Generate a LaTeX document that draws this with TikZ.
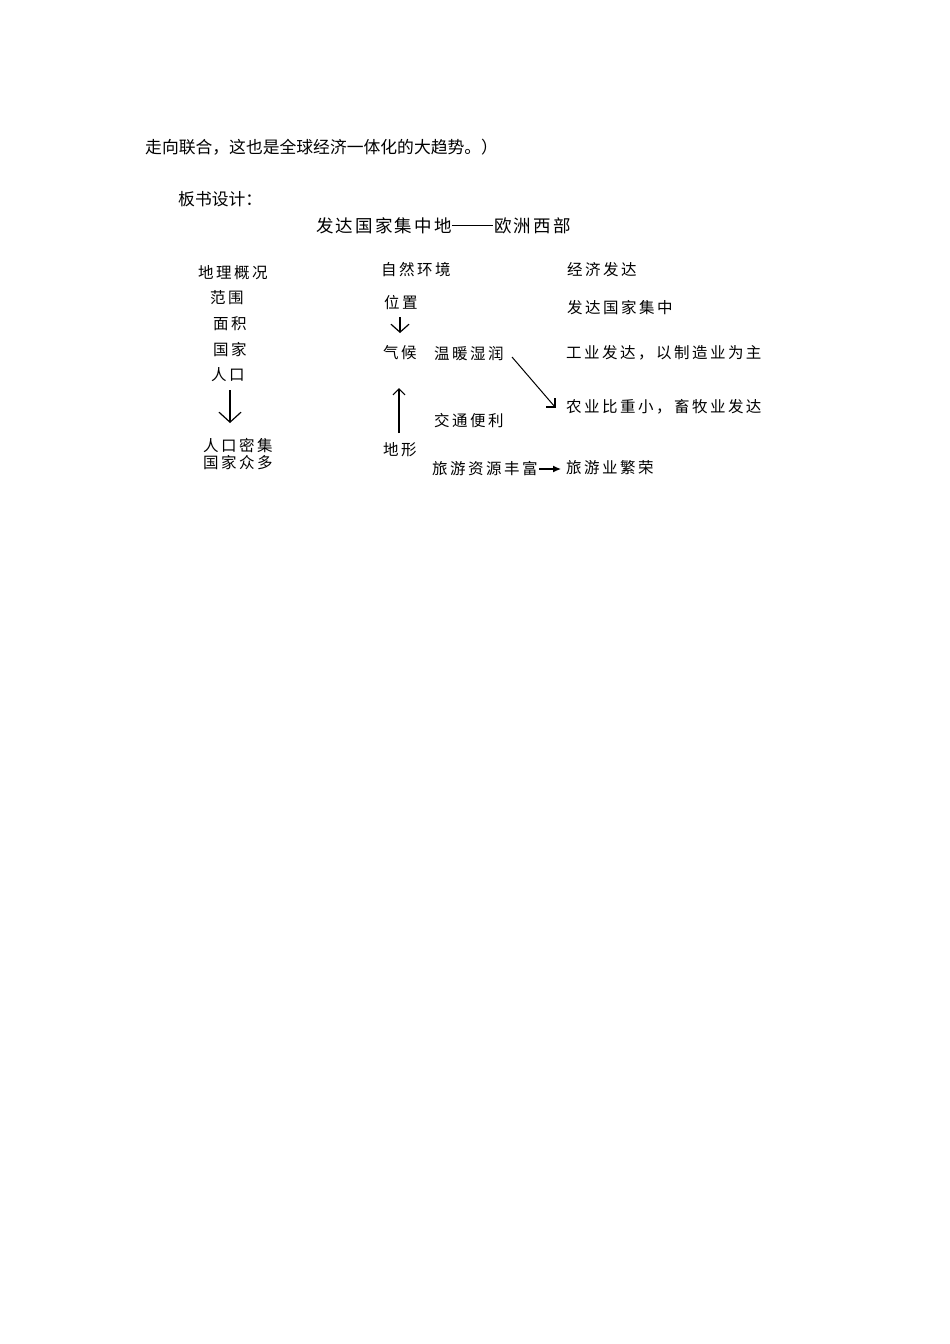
\documentclass[tikz,border=0pt]{standalone}
\usepackage{fontspec}
\usetikzlibrary{arrows.meta}
\newfontfamily\cjkplain{Noto Sans CJK SC}
\newfontfamily\cjkls[LetterSpace=16]{Noto Sans CJK SC}
\newfontfamily\cjktitle[LetterSpace=12.5]{Noto Sans CJK SC}
\begin{document}
\begin{tikzpicture}[x=1pt,y=-1pt,
  lbl/.style={anchor=west,inner sep=0pt,font=\fontsize{15.5}{18}\selectfont\cjkls},
  body/.style={anchor=west,inner sep=0pt,font=\fontsize{16.8}{20}\selectfont\cjkplain},
  ttl/.style={anchor=west,inner sep=0pt,font=\fontsize{17.5}{20}\selectfont\cjktitle},
  arr/.style={line width=1.2pt}]
\useasboundingbox (0,0) rectangle (950,1344);
\fill[white] (0,0) rectangle (950,1344);
% header text
\node[body] (l1) at (145,147) {走向联合，这也是全球经济一体化的大趋势。）};
\node[body] (bs) at (178,199) {板书设计：};
\node[ttl] (title) at (316,226) {发达国家集中地\rule[6.2pt]{41pt}{1.1pt}\hspace{1.5pt}欧洲西部};
% column 1
\node[lbl] (dl) at (198,273) {地理概况};
\node[lbl] (fw) at (210,298) {范围};
\node[lbl] (mj) at (213,324) {面积};
\node[lbl] (gj) at (213,350) {国家};
\node[lbl] (rk) at (211,375) {人口};
\node[lbl] (rkmj) at (203,446) {人口密集};
\node[lbl] (gjzd) at (203,463) {国家众多};
% column 2
\node[lbl] (zr) at (381,270) {自然环境};
\node[lbl] (wz) at (384,303) {位置};
\node[lbl] (qh) at (383,353) {气候};
\node[lbl] (wn) at (434,354) {温暖湿润};
\node[lbl] (jt) at (434,421) {交通便利};
\node[lbl] (dx) at (383,450) {地形};
\node[lbl] (ly) at (432,469) {旅游资源丰富};
% column 3
\node[lbl] (jj) at (567,270) {经济发达};
\node[lbl] (fd) at (567,308) {发达国家集中};
\node[lbl] (gy) at (566,353) {工业发达，以制造业为主};
\node[lbl] (ny) at (566,407) {农业比重小，畜牧业发达};
\node[lbl] (lyfr) at (566,468) {旅游业繁荣};
% arrow end points
\coordinate (a1s) at (230,390);
\coordinate (a1e) at (230,423);
\coordinate (a2s) at (400,317);
\coordinate (a2e) at (400,333);
\coordinate (a3s) at (399,433);
\coordinate (a3e) at (399,388);
\coordinate (a4s) at (512,357);
\coordinate (a4e) at (555,407);
\coordinate (a5s) at (539,469);
\coordinate (a5e) at (561,469);
% arrows
\draw[arr,-{Straight Barb[length=10pt,width=22pt]}] (a1s) -- (a1e);
\draw[arr,-{Straight Barb[length=8pt,width=18pt]}] (a2s) -- (a2e);
\draw[arr,-{Straight Barb[length=6pt,width=12pt]}] (a3s) -- (a3e);
\draw[line width=1pt] (a4s) -- (a4e);
\draw[line width=1.3pt] ([xshift=-9pt]a4e) -- (a4e) -- ([yshift=9pt]a4e);
\draw[arr,-{Latex[length=8pt,width=7pt]}] (a5s) -- (a5e);
\end{tikzpicture}
\end{document}
